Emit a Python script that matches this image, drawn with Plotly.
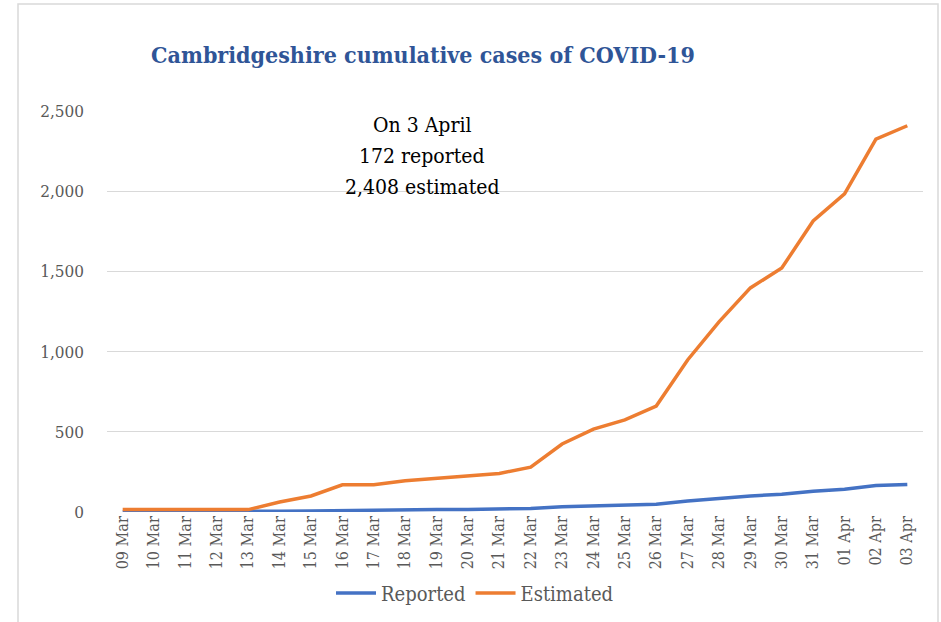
import plotly.graph_objects as go

dates = ["09 Mar", "10 Mar", "11 Mar", "12 Mar", "13 Mar", "14 Mar", "15 Mar", "16 Mar",
         "17 Mar", "18 Mar", "19 Mar", "20 Mar", "21 Mar", "22 Mar", "23 Mar", "24 Mar",
         "25 Mar", "26 Mar", "27 Mar", "28 Mar", "29 Mar", "30 Mar", "31 Mar", "01 Apr",
         "02 Apr", "03 Apr"]
reported = [0, 0, 1, 1, 2, 5, 7, 10, 10, 14, 15, 16, 18, 22, 32, 38, 42, 48, 68, 85,
            100, 110, 130, 142, 165, 172]
estimated = [15, 15, 15, 15, 15, 62, 100, 170, 170, 195, 210, 225, 240, 280, 424, 517,
             574, 661, 948, 1185, 1397, 1521, 1814, 1983, 2325, 2408]
y_ticks = [0, 500, 1000, 1500, 2000, 2500]
y_tick_labels = ["0", "500", "1,000", "1,500", "2,000", "2,500"]
note_lines = ["On 3 April", "172 reported", "2,408 estimated"]

FONT = "DejaVu Serif Condensed, Liberation Serif, serif"

fig = go.Figure()
fig.add_trace(go.Scatter(x=dates, y=reported, mode="lines", name="Reported",
                         line=dict(color="#4472C4", width=3.5)))
fig.add_trace(go.Scatter(x=dates, y=estimated, mode="lines", name="Estimated",
                         line=dict(color="#ED7D31", width=3.5)))

L, R, T, B = 107, 18, 111, 110
W, H = 941, 622
pw, ph = W - L - R, H - T - B

def px_x(x):
    return (x - L) / pw

def px_y(y):
    return (H - B - y) / ph

fig.update_layout(
    width=W, height=H,
    margin=dict(l=L, r=R, t=T, b=B, autoexpand=False),
    paper_bgcolor="white", plot_bgcolor="white",
    font=dict(family=FONT, color="#595959"),
    title=dict(text="<b>Cambridgeshire cumulative cases of COVID-19</b>",
               font=dict(family=FONT, size=23, color="#2F5597"),
               x=423 / W, xanchor="center", y=1 - 55 / H, yanchor="middle"),
    xaxis=dict(type="category", range=[-0.5, 25.5], tickangle=-90,
               tickfont=dict(size=16, color="#595959"), showgrid=False,
               showline=False, ticks="", zeroline=False, automargin=False),
    yaxis=dict(range=[0, 2500], tickvals=y_ticks, ticktext=y_tick_labels,
               tickfont=dict(size=17, color="#595959"), showgrid=True,
               gridcolor="#D9D9D9", gridwidth=1, zeroline=False, ticks="",
               ticklabelstandoff=22, automargin=False),
    legend=dict(orientation="h", xref="container", yref="container",
                x=475 / W, xanchor="center", y=1 - 593 / H, yanchor="middle",
                font=dict(size=20, color="#595959"), itemwidth=40),
    showlegend=True,
)

for i, line in enumerate(note_lines):
    fig.add_annotation(text=line, xref="paper", yref="paper",
                       x=px_x(422), y=px_y(125 + 31 * i),
                       xanchor="center", yanchor="middle", showarrow=False,
                       font=dict(family=FONT, size=21, color="black"))

fig.add_shape(type="rect", xref="paper", yref="paper",
              x0=px_x(18), x1=px_x(938), y0=px_y(640), y1=px_y(4),
              line=dict(color="#D9D9D9", width=1.5), layer="below")

fig.write_html("out.html", config={"displayModeBar": False},
               post_script="document.body.style.margin='0';")
